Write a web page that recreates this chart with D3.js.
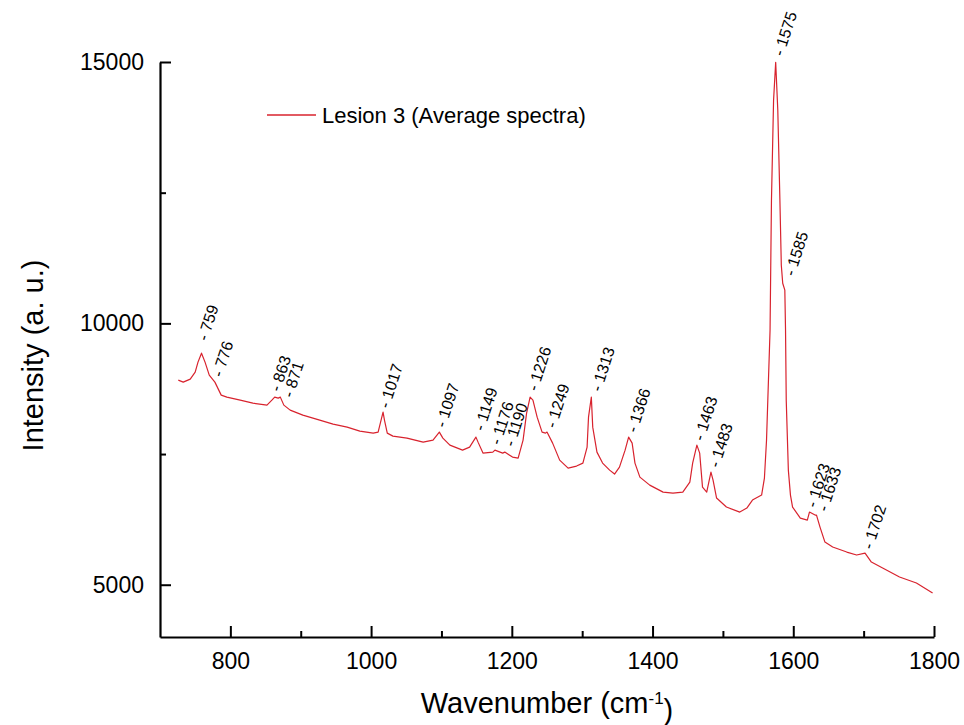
<!DOCTYPE html>
<html>
<head>
<meta charset="utf-8">
<script src="https://cdn.jsdelivr.net/npm/d3@7"></script>
<style>
    body { margin: 0; background: #fff; }
    text { font-family: Arial, "Liberation Sans", sans-serif; fill: #000; }
</style>
</head>
<body>
<svg id="chart"></svg>
<script>
// spectrum
var wavenumber = [726, 733, 743, 750, 754, 759, 764, 770, 778, 787, 795, 814, 832, 852, 859, 863, 868, 871, 876, 885,
    903, 927, 946, 966, 984, 1003, 1010, 1017, 1019, 1023, 1031, 1051, 1074, 1088, 1097, 1102, 1112, 1130, 1140, 1149,
    1152, 1159, 1173, 1176, 1187, 1190, 1201, 1209, 1216, 1221, 1226, 1230, 1236, 1243, 1248, 1250, 1258, 1268, 1280, 1292,
    1301, 1307, 1309, 1313, 1315, 1321, 1329, 1339, 1346, 1353, 1361, 1366, 1371, 1375, 1382, 1396, 1415, 1429, 1443, 1453,
    1457, 1463, 1467, 1471, 1477, 1483, 1486, 1491, 1505, 1524, 1534, 1542, 1555, 1559, 1562, 1567, 1569, 1572, 1575, 1578,
    1581, 1583, 1585, 1588, 1589, 1590, 1593, 1596, 1599, 1610, 1620, 1623, 1631, 1633, 1638, 1645, 1656, 1676, 1690, 1702,
    1711, 1727, 1751, 1775, 1798];
var intensity = [8914, 8876, 8933, 9067, 9258, 9430, 9258, 9009, 8876, 8627, 8589, 8531, 8474, 8436, 8531, 8589, 8570, 8589, 8436, 8340,
    8245, 8149, 8073, 8015, 7939, 7900, 7920, 8302, 8149, 7900, 7843, 7805, 7728, 7767, 7920, 7805, 7671, 7575, 7633, 7824,
    7728, 7518, 7537, 7575, 7518, 7537, 7442, 7423, 7767, 8283, 8589, 8531, 8206, 7920, 7900, 7920, 7709, 7384, 7231, 7270,
    7327, 7633, 8206, 8589, 8015, 7537, 7327, 7193, 7117, 7250, 7575, 7824, 7709, 7327, 7059, 6906, 6772, 6753, 6772, 6964,
    7327, 7671, 7518, 6868, 6772, 7155, 7002, 6658, 6486, 6390, 6466, 6619, 6715, 7040, 7767, 9870, 12355, 14267, 14994, 14076,
    12355, 11113, 10768, 10635, 9870, 8531, 7193, 6715, 6486, 6275, 6237, 6390, 6333, 6333, 6103, 5816, 5721, 5625, 5568, 5606,
    5434, 5319, 5147, 5032, 4841];

// peak labels and where they sit (data units)
var peakNames = ["759", "776", "863", "871", "1017", "1097", "1149", "1176", "1190", "1226",
    "1249", "1313", "1366", "1463", "1483", "1575", "1585", "1623", "1633", "1702"];
var peakLabelW = [760, 781, 863, 881, 1018, 1098, 1153, 1176, 1196, 1229,
    1255, 1319, 1370, 1465, 1487, 1578, 1594, 1625, 1641, 1705];
var peakLabelI = [9680, 8990, 8710, 8595, 8390, 8020, 7960, 7690, 7660, 8720,
    8010, 8710, 7925, 7770, 7255, 15130, 10920, 6490, 6415, 5695];

var xMajor = [800, 1000, 1200, 1400, 1600, 1800];
var xMinor = [900, 1100, 1300, 1500, 1700];
var yMajor = [5000, 10000, 15000];
var yMinor = [7500, 12500];

var seriesName = "Lesion 3 (Average spectra)";
var lineColor = "#d8232e";

let W = 964, H = 725;
let margin = {top: 62, right: 30, bottom: 88, left: 160};

let svg = d3.select("#chart").attr("width", W).attr("height", H);

let x = d3.scaleLinear().domain([700, 1800]).range([margin.left, W - margin.right]);
let y = d3.scaleLinear().domain([4000, 15000]).range([H - margin.bottom, margin.top]);

let spectrum = wavenumber.map((w, i) => ({w: w, v: intensity[i]}));

// minor ticks first, axes on top
svg.append("g")
    .attr("transform", "translate(0," + (H - margin.bottom) + ")")
    .call(d3.axisBottom(x).tickValues(xMinor).tickSize(-6).tickSizeOuter(0).tickFormat(""))
    .call(g => g.select(".domain").remove())
    .selectAll("line").attr("stroke-width", 2);

svg.append("g")
    .attr("transform", "translate(" + margin.left + ",0)")
    .call(d3.axisLeft(y).tickValues(yMinor).tickSize(-6).tickSizeOuter(0).tickFormat(""))
    .call(g => g.select(".domain").remove())
    .selectAll("line").attr("stroke-width", 2);

let xAxis = svg.append("g")
    .attr("transform", "translate(0," + (H - margin.bottom) + ")")
    .call(d3.axisBottom(x).tickValues(xMajor).tickSize(-11).tickSizeOuter(0).tickPadding(16).tickFormat(d3.format("d")));
xAxis.select(".domain").attr("stroke-width", 2.2);
xAxis.selectAll("line").attr("stroke-width", 2);
xAxis.selectAll("text").style("font-size", "23px");

let yAxis = svg.append("g")
    .attr("transform", "translate(" + margin.left + ",0)")
    .call(d3.axisLeft(y).tickValues(yMajor).tickSize(-11).tickSizeOuter(0).tickPadding(16).tickFormat(d3.format("d")));
yAxis.select(".domain").attr("stroke-width", 2.2);
yAxis.selectAll("line").attr("stroke-width", 2);
yAxis.selectAll("text").style("font-size", "23px");

let line = d3.line().x(d => x(d.w)).y(d => y(d.v));

svg.append("path")
    .datum(spectrum)
    .attr("fill", "none")
    .attr("stroke", lineColor)
    .attr("stroke-width", 1.2)
    .attr("stroke-linejoin", "round")
    .attr("d", line);

svg.selectAll(".peak")
    .data(peakNames)
    .enter().append("text")
    .attr("class", "peak")
    .attr("transform", (d, i) => "translate(" + x(peakLabelW[i]) + "," + y(peakLabelI[i]) + ") rotate(-72)")
    .attr("dy", "0.35em")
    .style("font-size", "16px")
    .text(d => "- " + d);

// legend
svg.append("line")
    .attr("x1", 267).attr("x2", 316)
    .attr("y1", 115).attr("y2", 115)
    .attr("stroke", lineColor)
    .attr("stroke-width", 1.3);

svg.append("text")
    .attr("x", 322)
    .attr("y", 115)
    .attr("dy", "0.35em")
    .style("font-size", "22px")
    .text(seriesName);

// axis titles
let xTitle = svg.append("text")
    .attr("x", (x(700) + x(1800)) / 2)
    .attr("y", 713)
    .attr("text-anchor", "middle")
    .style("font-size", "29px");
xTitle.append("tspan").text("Wavenumber (cm");
xTitle.append("tspan").attr("dy", "-0.55em").style("font-size", "17px").text("-1");
xTitle.append("tspan").attr("dy", "0.55em").text(")");

svg.append("text")
    .attr("transform", "translate(43," + ((y(4000) + y(15000)) / 2 + 6) + ") rotate(-90)")
    .attr("text-anchor", "middle")
    .style("font-size", "29px")
    .text("Intensity (a. u.)");
</script>
</body>
</html>
